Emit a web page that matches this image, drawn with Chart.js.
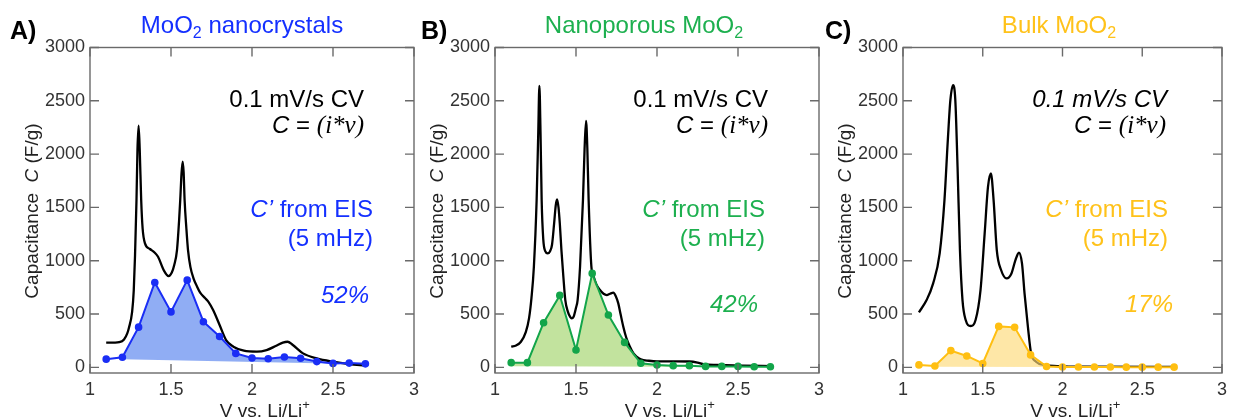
<!DOCTYPE html>
<html>
<head>
<meta charset="utf-8">
<script src="https://cdn.jsdelivr.net/npm/chart.js@4.4.1/dist/chart.umd.min.js"></script>
<style>
  html, body { margin: 0; padding: 0; background: #fff; }
  #wrap { position: relative; width: 1233px; height: 419px; }
  #wrap canvas { position: absolute; left: 0; top: 0; }
</style>
</head>
<body>
<div id="wrap">
  <canvas id="chartA" width="1233" height="419"></canvas>
  <canvas id="chartB" width="1233" height="419"></canvas>
  <canvas id="chartC" width="1233" height="419"></canvas>
</div>
<script>
// axis ticks
var xTicks = [1, 1.5, 2, 2.5, 3];
var xTickLabels = ['1', '1.5', '2', '2.5', '3'];
var yTicks = [0, 500, 1000, 1500, 2000, 2500, 3000];
var yTickLabels = ['0', '500', '1000', '1500', '2000', '2500', '3000'];

// EIS sampling potentials (V vs Li/Li+)
var eisV = [1.1, 1.2, 1.3, 1.4, 1.5, 1.6, 1.7, 1.8, 1.9, 2.0, 2.1, 2.2, 2.3, 2.4, 2.5, 2.6, 2.7];
var eisA = [77, 95, 377, 796, 520, 818, 428, 289, 131, 87, 81, 97, 85, 54, 37, 40, 33];
var eisB = [44, 44, 419, 675, 163, 881, 491, 234, 38, 22, 16, 16, 9, 9, 9, 6, 6];
var eisC = [23, 12, 157, 107, 36, 384, 375, 117, 8, 3, 3, 3, 3, 2, 2, 2, 2];

// bottom edge of the shaded EIS area
var baseAV = [1.2, 2.7], baseAC = [75, 30];
var baseBV = [1.1, 2.7], baseBC = [10, 4];
var baseCV = [1.2, 2.7], baseCC = [5, 2];

// 0.1 mV/s CV capacitance
var cvAV = [1.10, 1.15, 1.18, 1.21, 1.23, 1.24, 1.26, 1.27, 1.278, 1.287, 1.293, 1.30, 1.307, 1.316, 1.325, 1.34, 1.37, 1.40, 1.42, 1.455, 1.485, 1.505, 1.52, 1.537, 1.55, 1.557, 1.565, 1.572, 1.578, 1.584, 1.595, 1.605, 1.62, 1.64, 1.66, 1.68, 1.71, 1.73, 1.76, 1.80, 1.84, 1.885, 1.95, 2.03, 2.09, 2.15, 2.19, 2.22, 2.25, 2.315, 2.40, 2.50, 2.60, 2.70];
var cvAC = [231, 232, 236, 262, 319, 370, 520, 720, 1050, 1570, 2040, 2266, 2040, 1570, 1300, 1160, 1110, 1075, 1037, 912, 856, 890, 960, 1100, 1380, 1569, 1820, 1930, 1830, 1569, 1300, 1100, 940, 830, 760, 700, 650, 616, 537, 397, 256, 194, 156, 147, 162, 203, 232, 240, 212, 131, 84, 53, 31, 16];

var cvBV = [1.10, 1.13, 1.16, 1.19, 1.21, 1.225, 1.24, 1.257, 1.267, 1.274, 1.281, 1.288, 1.298, 1.31, 1.325, 1.34, 1.352, 1.365, 1.375, 1.383, 1.392, 1.40, 1.41, 1.422, 1.434, 1.45, 1.465, 1.473, 1.485, 1.50, 1.51, 1.525, 1.543, 1.553, 1.562, 1.57, 1.578, 1.595, 1.607, 1.625, 1.648, 1.67, 1.69, 1.71, 1.73, 1.745, 1.761, 1.775, 1.792, 1.81, 1.833, 1.855, 1.874, 1.90, 1.95, 2.00, 2.12, 2.20, 2.25, 2.29, 2.37, 2.53, 2.71];
var cvBC = [194, 205, 240, 330, 460, 650, 944, 1569, 2200, 2641, 2200, 1569, 1200, 1090, 1069, 1090, 1150, 1350, 1520, 1575, 1500, 1350, 1100, 850, 631, 520, 470, 459, 475, 560, 631, 944, 1569, 2050, 2312, 2050, 1569, 944, 860, 780, 725, 690, 678, 690, 700, 670, 600, 500, 381, 280, 194, 130, 100, 75, 62, 56, 56, 55, 45, 28, 22, 16, 12];

var cvCV = [1.10, 1.148, 1.189, 1.23, 1.26, 1.281, 1.297, 1.314, 1.328, 1.342, 1.357, 1.373, 1.393, 1.424, 1.455, 1.486, 1.512, 1.533, 1.551, 1.568, 1.588, 1.615, 1.65, 1.68, 1.705, 1.727, 1.746, 1.762, 1.783, 1.803, 1.834, 1.885, 1.967, 2.13, 2.70];
var cvCC = [516, 631, 788, 1069, 1569, 2131, 2506, 2647, 2506, 1881, 1100, 631, 444, 388, 444, 725, 1256, 1694, 1819, 1569, 1100, 913, 834, 881, 1006, 1075, 975, 694, 381, 131, 53, 22, 12, 6, 4];

var SANS = '"Liberation Sans", Arial, Helvetica, sans-serif';
var SERIF = '"Liberation Serif", "Times New Roman", serif';

var panels = [
  { canvas: 'chartA', left: 90, right: 414, label: 'A)', labelX: 10,
    title: 'MoO', titleTail: ' nanocrystals', titleCx: 242,
    color: '#1430ff', line: '#1a2ef5', fill: 'rgba(120,155,242,0.82)',
    cvV: cvAV, cvC: cvAC, eis: eisA, baseV: baseAV, baseC: baseAC,
    pct: '52%', cvItalic: false,
    ends: [364, 364, 373, 373, 369], pctY: 303 },
  { canvas: 'chartB', left: 495, right: 819, label: 'B)', labelX: 421,
    title: 'Nanoporous MoO', titleTail: '', titleCx: 644,
    color: '#1db04f', line: '#13a54a', fill: 'rgba(170,216,120,0.72)',
    cvV: cvBV, cvC: cvBC, eis: eisB, baseV: baseBV, baseC: baseBC,
    pct: '42%', cvItalic: false,
    ends: [768, 768, 765, 765, 758], pctY: 312 },
  { canvas: 'chartC', left: 903, right: 1227, label: 'C)', labelX: 825,
    title: 'Bulk MoO', titleTail: '', titleCx: 1059,
    color: '#ffc21a', line: '#ffbf12', fill: 'rgba(253,218,120,0.65)',
    cvV: cvCV, cvC: cvCC, eis: eisC, baseV: baseCV, baseC: baseCC,
    pct: '17%', cvItalic: true,
    ends: [1167, 1166, 1168, 1168, 1173], pctY: 312 }
];

function pts(xs, ys) { return xs.map(function (v, i) { return { x: v, y: ys[i] }; }); }

// draws a row of text pieces, aligned 'left', 'right' or 'center' at x
function rich(ctx, parts, x, y, align) {
  var w = 0;
  parts.forEach(function (p) { ctx.font = p.font; w += ctx.measureText(p.t).width; });
  var cx = align === 'right' ? x - w : align === 'center' ? x - w / 2 : x;
  ctx.textAlign = 'left';
  ctx.textBaseline = 'alphabetic';
  parts.forEach(function (p) {
    ctx.font = p.font;
    ctx.fillStyle = p.color;
    ctx.fillText(p.t, cx, y + (p.dy || 0));
    cx += ctx.measureText(p.t).width;
  });
}

var framePlugin = {
  id: 'frame',
  afterDraw: function (chart) {
    var P = chart.options.plugins.frame.panel;
    var ctx = chart.ctx, a = chart.chartArea, sx = chart.scales.x, sy = chart.scales.y;
    ctx.save();
    ctx.strokeStyle = '#6a6a6a';
    ctx.lineWidth = 1.4;
    ctx.strokeRect(a.left, a.top, a.right - a.left, a.bottom - a.top);
    ctx.beginPath();
    xTicks.forEach(function (v) {
      var p = sx.getPixelForValue(v);
      ctx.moveTo(p, a.bottom); ctx.lineTo(p, a.bottom - 9);
      ctx.moveTo(p, a.top); ctx.lineTo(p, a.top + 9);
    });
    yTicks.forEach(function (v) {
      var p = sy.getPixelForValue(v);
      ctx.moveTo(a.left, p); ctx.lineTo(a.left + 9, p);
      ctx.moveTo(a.right, p); ctx.lineTo(a.right - 9, p);
    });
    ctx.stroke();

    var f24 = '24px ' + SANS, i24 = 'italic 24px ' + SANS;
    // panel letter and title
    rich(ctx, [{ t: P.label, font: 'bold 25px ' + SANS, color: '#000' }], P.labelX, 39, 'left');
    rich(ctx, [
      { t: P.title, font: f24, color: P.color },
      { t: '2', font: '16px ' + SANS, color: P.color, dy: 5 },
      { t: P.titleTail, font: f24, color: P.color }
    ], P.titleCx, 33, 'center');

    // annotations
    rich(ctx, [{ t: '0.1 mV/s CV', font: P.cvItalic ? i24 : f24, color: '#000' }], P.ends[0], 107, 'right');
    rich(ctx, [
      { t: 'C', font: i24, color: '#000' },
      { t: ' = ', font: f24, color: '#000' },
      { t: '(i*v)', font: 'italic 25px ' + SERIF, color: '#000' }
    ], P.ends[1], 133, 'right');
    rich(ctx, [
      { t: 'C\u2019', font: i24, color: P.color },
      { t: ' from EIS', font: f24, color: P.color }
    ], P.ends[2], 217, 'right');
    rich(ctx, [{ t: '(5 mHz)', font: f24, color: P.color }], P.ends[3], 246, 'right');
    rich(ctx, [{ t: P.pct, font: i24, color: P.color }], P.ends[4], P.pctY, 'right');

    // axis titles
    var mid = (a.left + a.right) / 2 + 9;
    ctx.font = '19px ' + SANS;
    var wx = ctx.measureText('V vs. Li/Li').width;
    rich(ctx, [
      { t: 'V vs. Li/Li', font: '19px ' + SANS, color: '#222' },
      { t: '+', font: '13px ' + SANS, color: '#222', dy: -8 }
    ], mid - wx / 2, 417, 'left');

    ctx.translate(a.left - 52, 211);
    ctx.rotate(-Math.PI / 2);
    rich(ctx, [
      { t: 'Capacitance  ', font: '19px ' + SANS, color: '#222' },
      { t: 'C', font: 'italic 19px ' + SANS, color: '#222' },
      { t: ' (F/g)', font: '19px ' + SANS, color: '#222' }
    ], 0, 0, 'center');
    ctx.restore();
  }
};

panels.forEach(function (P) {
  var ctx = document.getElementById(P.canvas).getContext('2d');
  new Chart(ctx, {
    type: 'line',
    data: {
      datasets: [
        {
          label: 'C\u2019 from EIS',
          data: pts(eisV, P.eis),
          borderColor: P.line,
          backgroundColor: P.fill,
          pointBackgroundColor: P.line,
          pointBorderColor: P.line,
          pointRadius: 2.8,
          borderWidth: 2,
          tension: 0,
          fill: 2
        },
        {
          label: 'CV',
          data: pts(P.cvV, P.cvC),
          borderColor: '#000',
          borderWidth: 2.3,
          pointRadius: 0,
          cubicInterpolationMode: 'monotone',
          fill: false
        },
        {
          label: 'base',
          data: pts(P.baseV, P.baseC),
          borderColor: 'rgba(0,0,0,0)',
          backgroundColor: 'rgba(0,0,0,0)',
          borderWidth: 1,
          pointRadius: 0,
          fill: false
        }
      ]
    },
    options: {
      responsive: false,
      animation: false,
      events: [],
      layout: { padding: { left: P.left - 60, right: 1233 - P.right, top: 47.5, bottom: 6 } },
      plugins: {
        legend: { display: false },
        tooltip: { enabled: false },
        frame: { panel: P }
      },
      scales: {
        x: {
          type: 'linear', min: 1, max: 3,
          afterFit: function (s) { s.height = 40; },
          afterBuildTicks: function (s) { s.ticks = xTicks.map(function (v) { return { value: v }; }); },
          grid: { display: false, drawTicks: false },
          border: { display: false },
          ticks: {
            padding: 6, color: '#333', font: { family: SANS, size: 18 }, maxRotation: 0, autoSkip: false,
            callback: function (v, i) { return xTickLabels[i]; }
          }
        },
        y: {
          type: 'linear', min: -53, max: 3000,
          afterFit: function (s) { s.width = 60; },
          afterBuildTicks: function (s) { s.ticks = yTicks.map(function (v) { return { value: v }; }); },
          grid: { display: false, drawTicks: false },
          border: { display: false },
          ticks: {
            padding: 5, color: '#333', font: { family: SANS, size: 18 }, autoSkip: false,
            callback: function (v, i) { return yTickLabels[i]; }
          }
        }
      }
    },
    plugins: [framePlugin]
  });
});
</script>
</body>
</html>
